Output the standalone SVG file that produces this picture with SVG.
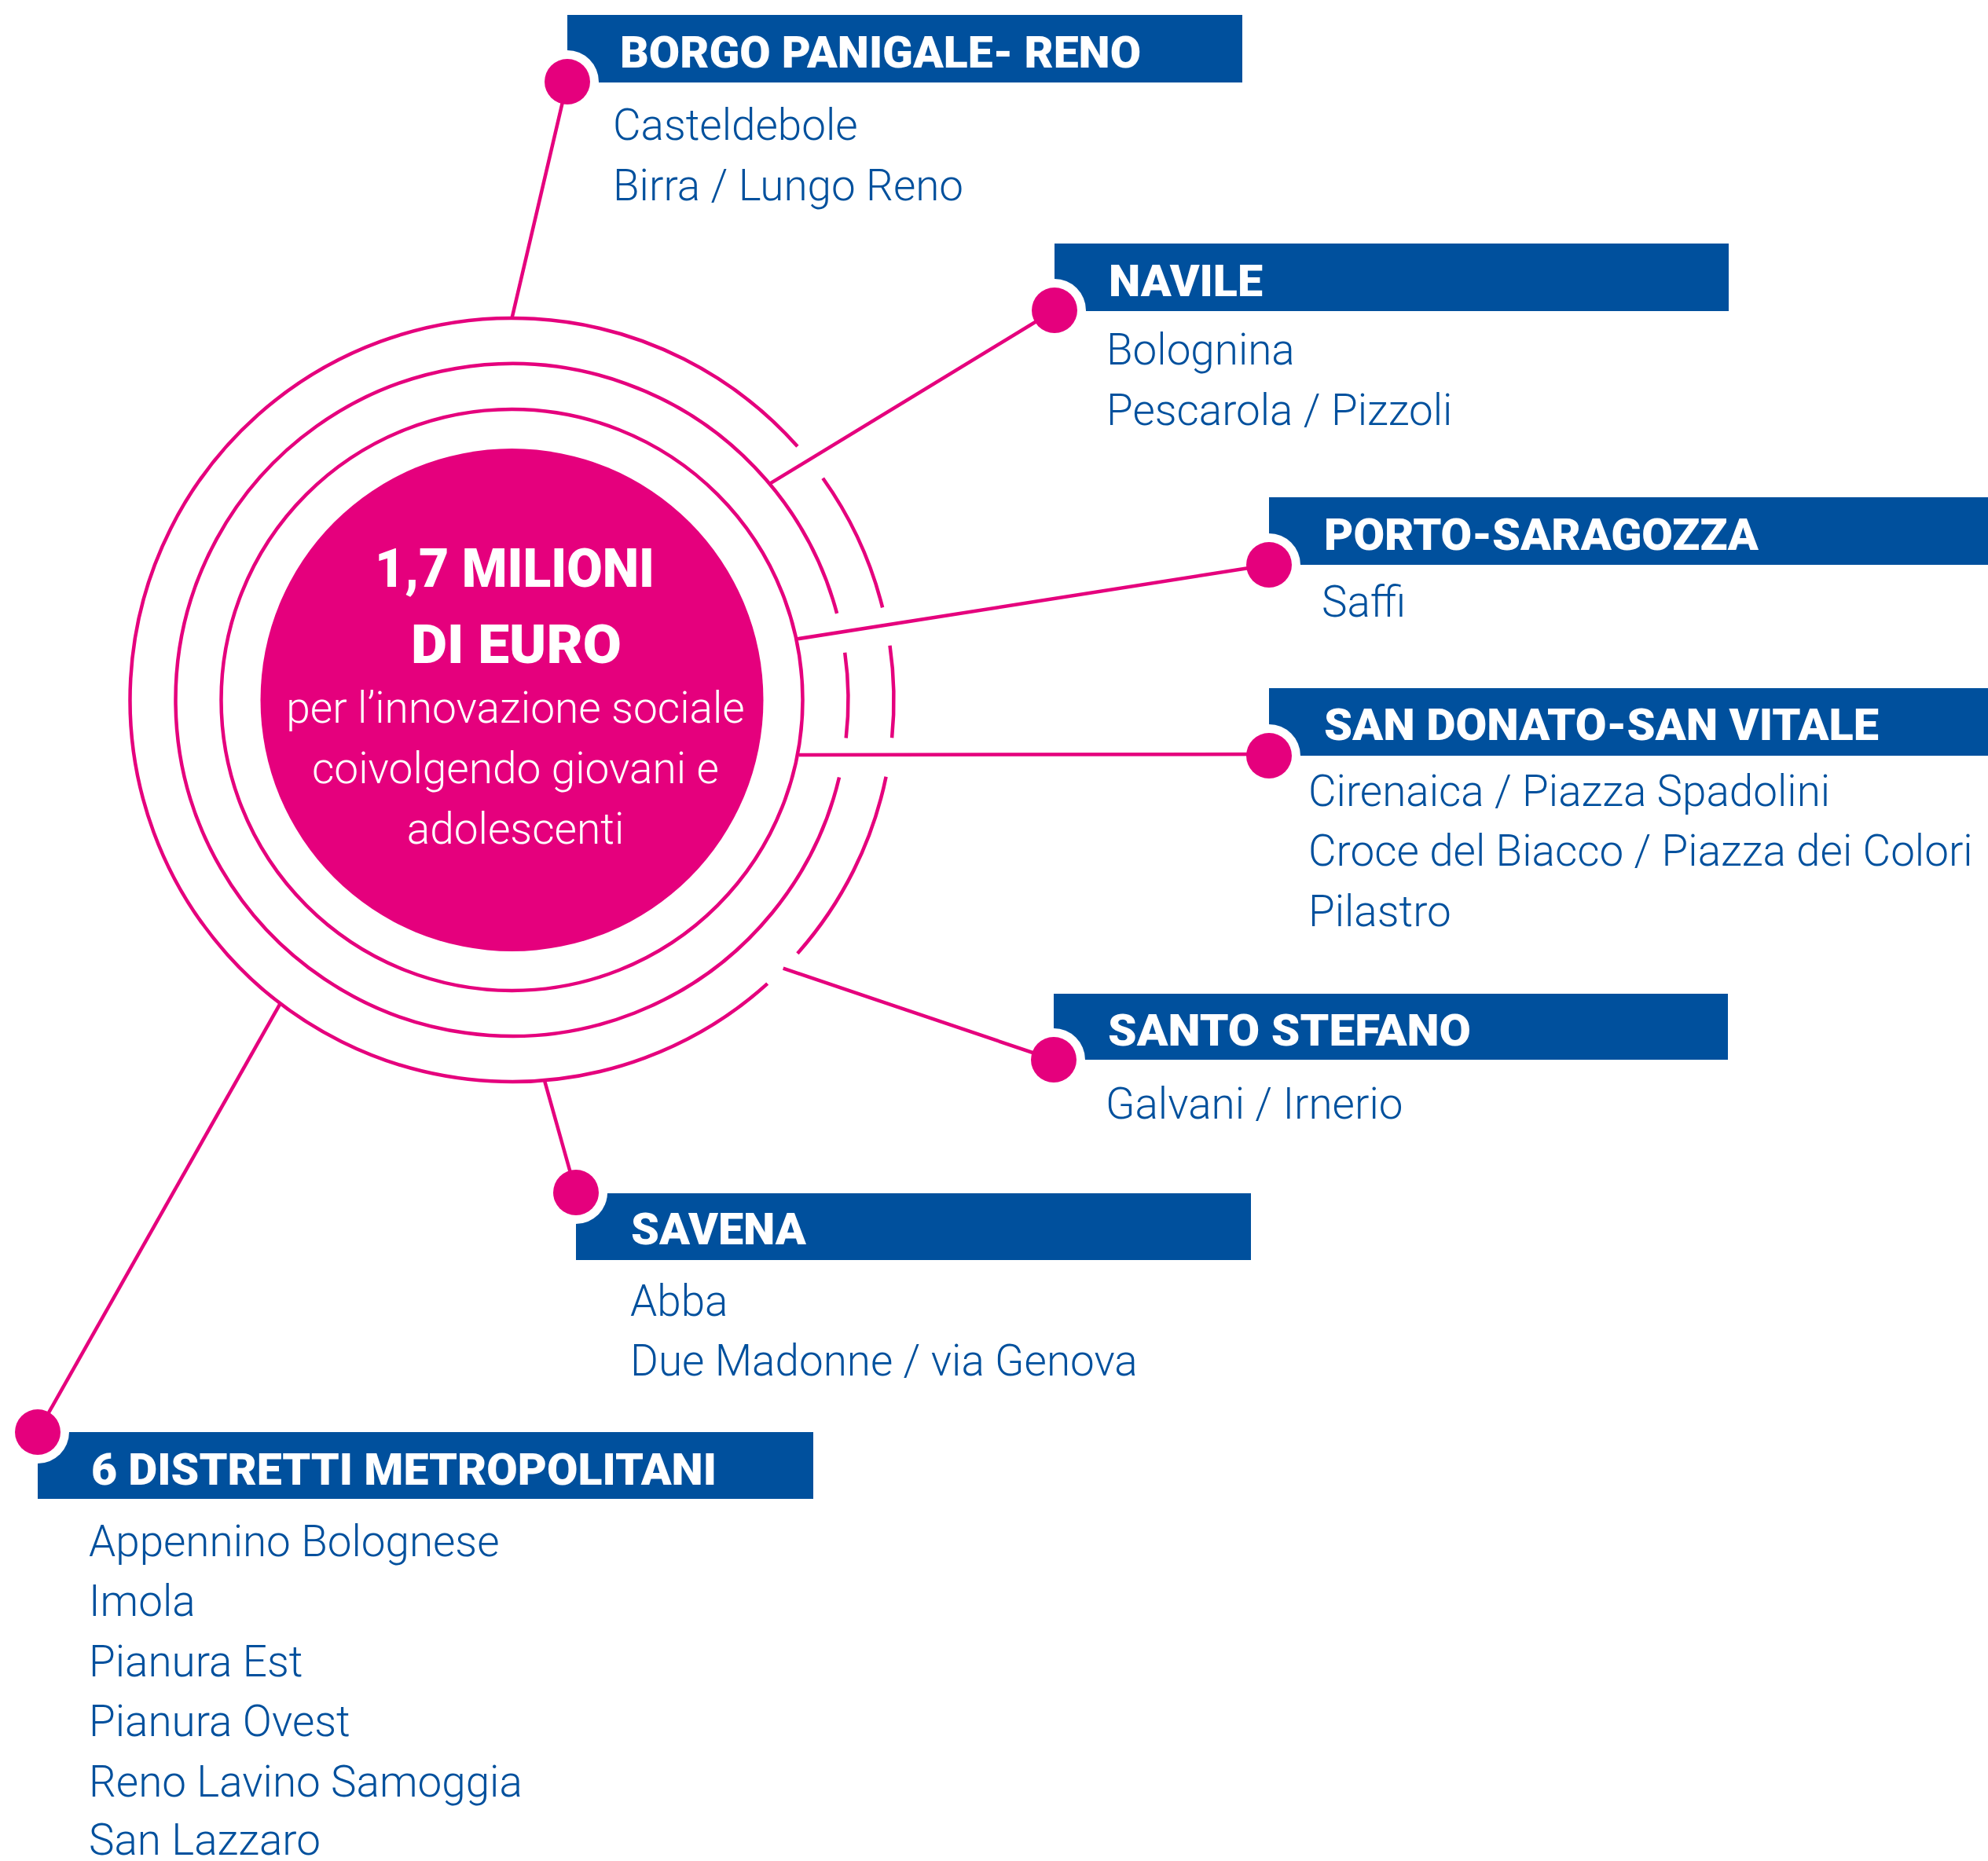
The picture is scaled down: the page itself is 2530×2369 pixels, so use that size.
<svg xmlns="http://www.w3.org/2000/svg" width="2530" height="2369" viewBox="0 0 2530 2369">
<style>
.t{font-family:Roboto,'Liberation Sans',sans-serif;font-weight:900;font-size:55px;fill:#fff}
.s{font-family:Roboto,'Liberation Sans',sans-serif;font-weight:300;font-size:54.8px;fill:#00509D}
.c1{font-family:Roboto,'Liberation Sans',sans-serif;font-weight:900;font-size:68px;fill:#fff;text-anchor:middle}
.c2{font-family:Roboto,'Liberation Sans',sans-serif;font-weight:300;font-size:55px;fill:#fff;text-anchor:middle}
.ring{fill:none;stroke:#E5007D;stroke-width:4.5}
.ln{fill:none;stroke:#E5007D;stroke-width:4.5}
.box{fill:#00509D}
.dot{fill:#E5007D}
.halo{fill:#fff}
</style>
<defs>
<clipPath id="cp1"><rect x="722" y="19" width="859" height="86"/></clipPath>
<clipPath id="cp2"><rect x="1342" y="310" width="858" height="86"/></clipPath>
<clipPath id="cp3"><rect x="1615" y="633" width="915" height="86"/></clipPath>
<clipPath id="cp4"><rect x="1615" y="876" width="915" height="86"/></clipPath>
<clipPath id="cp5"><rect x="1341" y="1265" width="858" height="84"/></clipPath>
<clipPath id="cp6"><rect x="733" y="1519" width="859" height="85"/></clipPath>
<clipPath id="cp7"><rect x="48" y="1823" width="987" height="85"/></clipPath>
</defs>
<rect width="2530" height="2369" fill="#fff"/>

<g id="center">
<circle cx="651.5" cy="891" r="320" fill="#E5007D"/>
<circle class="ring" cx="651.5" cy="891" r="370"/>
<path class="ring" d="M1068.0 989.5 A428 428 0 1 1 1065.1 780.9"/>
<path class="ring" d="M1075.2 830.7 A428 428 0 0 1 1076.7 939.4"/>
<path class="ring" d="M976.7 1252.2 A486 486 0 1 1 1014.9 568.3"/>
<path class="ring" d="M1047.2 608.8 A486 486 0 0 1 1123.1 773.4"/>
<path class="ring" d="M1132.5 821.7 A486 486 0 0 1 1135.1 939.3"/>
<path class="ring" d="M1127.6 988.7 A486 486 0 0 1 1014.9 1213.7"/>
<text class="c1" x="655" y="747" textLength="356" lengthAdjust="spacingAndGlyphs">1,7 MILIONI</text>
<text class="c1" x="657" y="844" textLength="268" lengthAdjust="spacingAndGlyphs">DI EURO</text>
<text class="c2" x="656" y="920">per l’innovazione sociale</text>
<text class="c2" x="656" y="997">coivolgendo giovani e</text>
<text class="c2" x="656" y="1074">adolescenti</text>
</g>

<g id="connectors">
<line class="ln" x1="651.5" y1="405" x2="722" y2="104"/>
<line class="ln" x1="979.4" y1="615.9" x2="1342" y2="395"/>
<line class="ln" x1="1015" y1="813.3" x2="1615" y2="719"/>
<line class="ln" x1="1017" y1="961" x2="1615" y2="960"/>
<line class="ln" x1="996.7" y1="1232.7" x2="1341" y2="1349"/>
<line class="ln" x1="693.3" y1="1376.7" x2="733" y2="1518"/>
<line class="ln" x1="356.7" y1="1277.3" x2="48" y2="1823"/>
</g>

<g id="borgo">
<rect class="box" x="722" y="19" width="859" height="86"/>
<circle class="halo" cx="722" cy="104" r="40" clip-path="url(#cp1)"/>
<circle class="dot" cx="722" cy="104" r="29"/>
<text class="t" x="789" y="86" textLength="663" lengthAdjust="spacingAndGlyphs">BORGO PANIGALE- RENO</text>
<text class="s" x="780" y="178">Casteldebole</text>
<text class="s" x="780" y="255">Birra / Lungo Reno</text>
</g>

<g id="navile">
<rect class="box" x="1342" y="310" width="858" height="86"/>
<circle class="halo" cx="1342" cy="395" r="40" clip-path="url(#cp2)"/>
<circle class="dot" cx="1342" cy="395" r="29"/>
<text class="t" x="1411" y="377" textLength="196" lengthAdjust="spacingAndGlyphs">NAVILE</text>
<text class="s" x="1408" y="464">Bolognina</text>
<text class="s" x="1408" y="541">Pescarola / Pizzoli</text>
</g>

<g id="porto">
<rect class="box" x="1615" y="633" width="915" height="86"/>
<circle class="halo" cx="1615" cy="719" r="40" clip-path="url(#cp3)"/>
<circle class="dot" cx="1615" cy="719" r="29"/>
<text class="t" x="1685" y="700" textLength="553" lengthAdjust="spacingAndGlyphs">PORTO-SARAGOZZA</text>
<text class="s" x="1682" y="785">Saffi</text>
</g>

<g id="sandonato">
<rect class="box" x="1615" y="876" width="915" height="86"/>
<circle class="halo" cx="1615" cy="962" r="40" clip-path="url(#cp4)"/>
<circle class="dot" cx="1615" cy="962" r="29"/>
<text class="t" x="1685" y="942" textLength="706" lengthAdjust="spacingAndGlyphs">SAN DONATO-SAN VITALE</text>
<text class="s" x="1665" y="1026">Cirenaica / Piazza Spadolini</text>
<text class="s" x="1665" y="1102">Croce del Biacco / Piazza dei Colori</text>
<text class="s" x="1665" y="1179">Pilastro</text>
</g>

<g id="santostefano">
<rect class="box" x="1341" y="1265" width="858" height="84"/>
<circle class="halo" cx="1341" cy="1349" r="40" clip-path="url(#cp5)"/>
<circle class="dot" cx="1341" cy="1349" r="29"/>
<text class="t" x="1410" y="1331" textLength="462" lengthAdjust="spacingAndGlyphs">SANTO STEFANO</text>
<text class="s" x="1407" y="1424">Galvani / Irnerio</text>
</g>

<g id="savena">
<rect class="box" x="733" y="1519" width="859" height="85"/>
<circle class="halo" cx="733" cy="1518" r="40" clip-path="url(#cp6)"/>
<circle class="dot" cx="733" cy="1518" r="29"/>
<text class="t" x="803" y="1584" textLength="223" lengthAdjust="spacingAndGlyphs">SAVENA</text>
<text class="s" x="802" y="1675">Abba</text>
<text class="s" x="802" y="1751">Due Madonne / via Genova</text>
</g>

<g id="distretti">
<rect class="box" x="48" y="1823" width="987" height="85"/>
<circle class="halo" cx="48" cy="1823" r="40" clip-path="url(#cp7)"/>
<circle class="dot" cx="48" cy="1823" r="29"/>
<text class="t" x="116" y="1890" textLength="796" lengthAdjust="spacingAndGlyphs">6 DISTRETTI METROPOLITANI</text>
<text class="s" x="113" y="1981">Appennino Bolognese</text>
<text class="s" x="113" y="2057">Imola</text>
<text class="s" x="113" y="2134">Pianura Est</text>
<text class="s" x="113" y="2210">Pianura Ovest</text>
<text class="s" x="113" y="2287">Reno Lavino Samoggia</text>
<text class="s" x="113" y="2361">San Lazzaro</text>
</g>
</svg>
